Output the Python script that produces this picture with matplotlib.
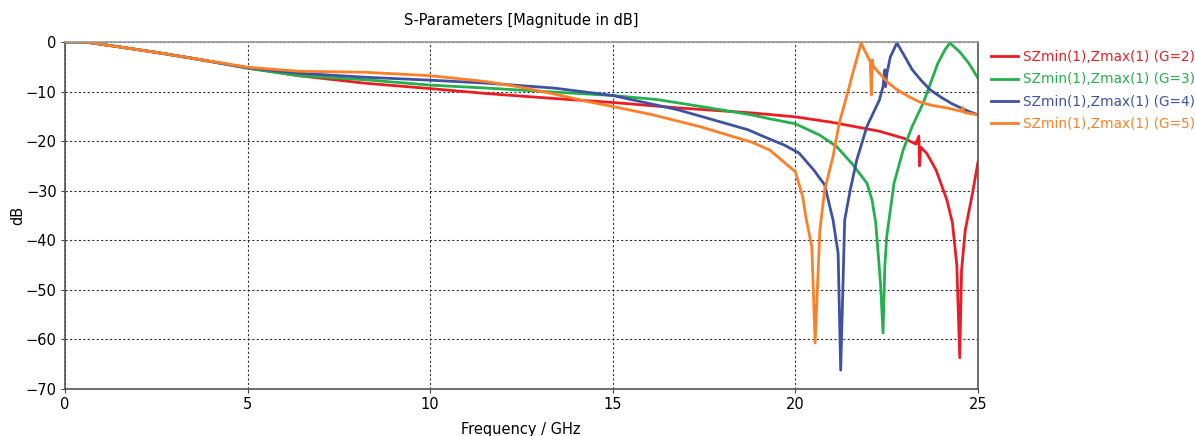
import numpy as np
import matplotlib
matplotlib.use('Agg')
import matplotlib.pyplot as plt

# S-parameter curves (frequency in GHz, magnitude in dB)
f_g2 = [0, 0.55, 1.5, 2.5, 3.5, 5, 6.4, 8.2, 10, 11.55, 13.4, 15, 16.8, 18.8,
        20, 21, 22.3, 23.0, 23.3, 23.38, 23.40, 23.43, 23.6, 23.85, 24.15, 24.3,
        24.42, 24.5, 24.55, 24.65, 24.85, 25]
db_g2 = [0, 0, -1.0, -2.1, -3.3, -5.2, -6.8, -8.3, -9.4, -10.4, -11.4, -12.2,
         -13.3, -14.3, -15.1, -16.2, -18.0, -19.5, -20.6, -19.0, -25.0, -21.2,
         -22.5, -25.8, -31.9, -36.5, -45.0, -63.7, -46.0, -38.0, -30.5, -24.2]

f_g3 = [0, 0.55, 1.5, 2.5, 3.5, 5, 6.4, 8.2, 10, 11.55, 13.4, 15, 16.2, 17.4,
        18.8, 19.3, 20, 20.67, 21.13, 21.58, 21.96, 22.1, 22.2, 22.33, 22.4,
        22.45, 22.5, 22.7, 22.95, 23.2, 23.5, 23.9, 24.1, 24.23, 24.5, 24.75, 25]
db_g3 = [0, 0, -1.0, -2.1, -3.3, -5.3, -6.8, -7.6, -8.7, -9.3, -10.1, -10.8,
         -11.6, -13.0, -14.7, -15.5, -16.5, -18.8, -21.1, -24.8, -28.5, -31.9,
         -36.5, -48.6, -58.7, -45.0, -39.3, -28.5, -21.8, -17.0, -12.3, -4.3,
         -1.5, -0.2, -2.0, -4.3, -7.3]

f_g4 = [0, 0.55, 1.5, 2.5, 3.5, 5, 6.4, 8.2, 10, 11.55, 13.4, 15, 16.8, 18.7,
        19.3, 19.7, 20.1, 20.5, 20.8, 21.03, 21.17, 21.24, 21.35, 21.5, 21.68,
        21.96, 22.3, 22.4, 22.45, 22.47, 22.5, 22.6, 22.78, 23.0, 23.2, 23.45,
        23.7, 24.0, 24.3, 24.65, 25]
db_g4 = [0, 0, -1.0, -2.1, -3.3, -5.2, -6.3, -7.1, -7.7, -8.3, -9.3, -10.8,
         -13.7, -17.7, -19.6, -20.8, -22.4, -25.8, -28.8, -35.9, -42.6, -66.2,
         -35.9, -29.9, -23.8, -17.0, -11.7, -9.0, -5.6, -9.0, -6.5, -3.0, -0.2,
         -3.0, -5.6, -7.8, -9.7, -11.2, -12.5, -13.7, -14.7]

f_g5 = [0, 0.55, 1.5, 2.5, 3.5, 5, 6.4, 8.2, 10, 11.55, 12.46, 13.4, 14.3, 15,
        16.1, 17.4, 18.8, 19.3, 20.0, 20.2, 20.3, 20.45, 20.54, 20.67, 20.8,
        21.03, 21.2, 21.45, 21.6, 21.8, 21.95, 22.05, 22.08, 22.1, 22.14, 22.3,
        22.55, 22.8, 23.1, 23.4, 23.75, 24.15, 24.55, 24.58, 24.62, 25]
db_g5 = [0, 0, -1.0, -2.1, -3.3, -5.1, -5.9, -6.1, -6.8, -8.0, -9.1, -10.5,
         -12.0, -13.0, -14.7, -17.1, -20.2, -21.8, -26.2, -31.2, -35.9, -41.3,
         -60.7, -38.0, -29.9, -23.1, -16.4, -9.7, -5.5, -0.2, -2.5, -4.0, -10.7,
         -3.6, -5.0, -6.3, -8.3, -9.7, -11.0, -12.1, -12.8, -13.3, -14.0, -13.2,
         -14.2, -14.7]

labels = ['SZmin(1),Zmax(1) (G=2)', 'SZmin(1),Zmax(1) (G=3)',
          'SZmin(1),Zmax(1) (G=4)', 'SZmin(1),Zmax(1) (G=5)']
colors = ['#ED1C24', '#22B14C', '#3F51A3', '#FF7F27']

fig = plt.figure(figsize=(11.95, 4.36), dpi=100)
ax = fig.add_axes([65/1195, 1-389/436, (978-65)/1195, (389-42)/436])

for f, d, lab, c in zip([f_g2, f_g3, f_g4, f_g5], [db_g2, db_g3, db_g4, db_g5],
                        labels, colors):
    ax.plot(f, d, color=c, lw=2, label=lab)

ax.set_xlim(0, 25)
ax.set_ylim(-70, 0)
ax.set_xticks([0, 5, 10, 15, 20, 25])
ax.set_yticks(np.arange(-70, 1, 10))
ax.grid(True, color='#333333', linestyle=(0, (2, 2)), lw=0.8)
ax.tick_params(labelsize=10.5, length=3, color='#444444', pad=3)
for s in ['left', 'bottom', 'right']:
    ax.spines[s].set_color('#555555')
    ax.spines[s].set_linewidth(1.2)
ax.spines['top'].set_color('#999999')
ax.spines['top'].set_linewidth(1.2)

fig.text(521/1195, 1-20/436, 'S-Parameters [Magnitude in dB]', ha='center',
         va='center', fontsize=10.5)
fig.text(521/1195, 1-429/436, 'Frequency / GHz', ha='center', va='center',
         fontsize=10.5)
fig.text(18/1195, 1-215/436, 'dB', ha='center', va='center', rotation=90,
         fontsize=10.5)

leg = ax.legend(loc='upper left', bbox_to_anchor=(1.005, 1.0), frameon=False,
                fontsize=9.8, handlelength=2.0, handletextpad=0.4,
                labelspacing=0.6, borderaxespad=0.2, labelcolor='linecolor')

fig.savefig('out.png', dpi=100)
